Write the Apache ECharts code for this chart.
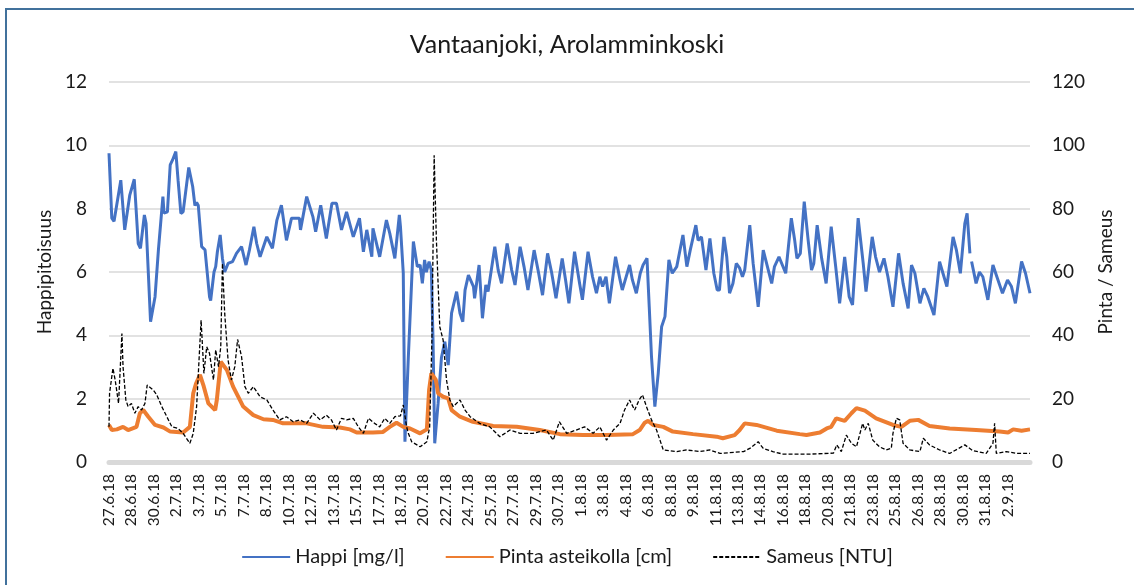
<!DOCTYPE html>
<html>
<head>
  <meta charset="utf-8">
  <script src="https://cdn.jsdelivr.net/npm/echarts@6/dist/echarts.min.js"></script>
  <style>
    body {
      margin: 0;
      padding: 0;
      overflow: hidden;
      background-color: white;
    }

    #main {
      position: absolute;
      left: 0;
      top: 0;
      width: 1134px;
      height: 585px;
    }

    #frame {
      position: absolute;
      left: 5px;
      top: 8px;
      width: 1200px;
      height: 700px;
      border: 2px solid #41719c;
      pointer-events: none;
    }
  </style>
  <title>Vantaanjoki, Arolamminkoski</title>
</head>
<body>
<div id="main"></div>
<div id="frame"></div>

<script>
  // x-akselin nimiöt (yksi nimiö joka 40. tunti)
  var dateLabels = ['27.6.18', '28.6.18', '30.6.18', '2.7.18', '3.7.18', '5.7.18', '7.7.18', '8.7.18',
    '10.7.18', '12.7.18', '13.7.18', '15.7.18', '17.7.18', '18.7.18', '20.7.18', '22.7.18', '24.7.18',
    '25.7.18', '27.7.18', '29.7.18', '30.7.18', '1.8.18', '3.8.18', '4.8.18', '6.8.18', '8.8.18',
    '9.8.18', '11.8.18', '13.8.18', '14.8.18', '16.8.18', '18.8.18', '20.8.18', '21.8.18', '23.8.18',
    '25.8.18', '26.8.18', '28.8.18', '30.8.18', '31.8.18', '2.9.18'];

  // [tunti alusta, happi mg/l]
  var happi = [[0, 9.75], [5, 7.7], [9, 7.6], [21, 8.9], [28, 7.33], [37, 8.43], [40, 8.38], [45, 8.93],
    [52, 6.9], [56, 6.75], [63, 7.8], [66, 7.54], [74, 4.43], [82, 5.22], [88, 6.7], [96, 8.38],
    [98, 7.86], [104, 7.9], [109, 9.38], [113, 9.53], [119, 9.8], [123, 8.9], [128, 7.85], [132, 7.9],
    [142, 9.3], [149, 8.7], [153, 8.1], [156, 8.2], [159, 8.1], [165, 6.8], [171, 6.7], [179, 5.22],
    [181, 5.1], [187, 6.0], [190, 6.17], [193, 6.64], [198, 7.17], [202, 6.43], [206, 6.0], [212, 6.27],
    [220, 6.33], [227, 6.59], [236, 6.8], [244, 6.22], [250, 6.69], [258, 7.43], [263, 6.9], [269, 6.48],
    [281, 7.11], [291, 6.75], [299, 7.64], [307, 8.11], [316, 7.0], [325, 7.7], [339, 7.7], [341, 7.33],
    [352, 8.38], [363, 7.75], [368, 7.27], [377, 8.11], [387, 7.06], [397, 8.17], [405, 8.17], [414, 7.33],
    [423, 7.9], [435, 7.11], [446, 7.7], [453, 6.64], [459, 7.33], [468, 6.48], [470, 7.38], [482, 6.48],
    [494, 7.64], [500, 7.22], [509, 6.43], [517, 7.8], [519, 7.43], [524, 5.97], [527, 0.64], [533, 3.3],
    [542, 6.96], [549, 6.17], [554, 6.22], [558, 5.64], [562, 6.38], [565, 6.0], [570, 6.33], [574, 6.06],
    [577, 3.85], [580, 0.59], [586, 1.85], [592, 3.3], [598, 3.8], [604, 3.06], [610, 4.7], [619, 5.38],
    [625, 4.7], [630, 4.43], [634, 5.43], [640, 5.9], [649, 5.54], [651, 5.17], [659, 6.22], [665, 4.54],
    [671, 5.59], [675, 5.38], [687, 6.8], [693, 6.06], [699, 5.64], [709, 6.9], [717, 6.06], [723, 5.59],
    [732, 6.8], [739, 6.17], [746, 5.43], [757, 6.69], [764, 6.06], [772, 5.27], [781, 6.59], [788, 6.0],
    [796, 5.17], [807, 6.43], [813, 5.75], [819, 5.01], [829, 6.64], [838, 5.64], [843, 5.12], [853, 6.64],
    [861, 5.85], [868, 5.33], [874, 5.85], [879, 5.54], [885, 5.85], [891, 5.01], [902, 6.48], [910, 5.75],
    [914, 5.43], [927, 6.22], [932, 5.75], [939, 5.33], [946, 5.96], [951, 6.22], [958, 6.43], [962, 4.9],
    [966, 3.33], [972, 1.75], [978, 2.8], [984, 4.27], [990, 4.59], [997, 6.38], [1003, 5.96], [1011, 6.17],
    [1022, 7.17], [1029, 6.17], [1035, 6.69], [1045, 7.48], [1049, 7.0], [1055, 7.11], [1063, 6.06],
    [1070, 7.06], [1077, 5.96], [1083, 5.43], [1087, 5.43], [1095, 7.11], [1100, 6.48], [1105, 5.33],
    [1111, 5.64], [1117, 6.27], [1123, 6.12], [1128, 5.85], [1132, 6.06], [1141, 7.48], [1147, 6.27],
    [1156, 4.9], [1165, 6.69], [1174, 6.06], [1180, 5.64], [1185, 6.17], [1193, 6.48], [1199, 6.22],
    [1205, 5.96], [1215, 7.7], [1221, 7.0], [1225, 6.43], [1231, 6.59], [1238, 8.22], [1245, 7.0],
    [1251, 6.06], [1255, 6.27], [1261, 7.48], [1269, 6.43], [1277, 5.64], [1286, 7.43], [1294, 6.17],
    [1301, 5.01], [1310, 6.48], [1318, 5.22], [1324, 4.96], [1334, 7.7], [1343, 6.27], [1348, 5.38],
    [1359, 7.11], [1365, 6.48], [1372, 6.0], [1380, 6.43], [1387, 5.85], [1396, 4.9], [1406, 6.59],
    [1414, 5.64], [1423, 4.85], [1429, 6.22], [1435, 5.96], [1444, 5.01], [1451, 5.48], [1458, 5.22],
    [1469, 4.64], [1479, 6.33], [1485, 5.96], [1492, 5.54], [1503, 7.11], [1509, 6.69], [1516, 5.96],
    [1524, 7.54], [1528, 7.85], [1533, 6.59], [1534.5, '-'], [1536, 6.33], [1544, 5.64], [1550, 6.0],
    [1556, 5.85], [1565, 5.12], [1574, 6.22], [1581, 5.85], [1591, 5.33], [1600, 5.75], [1607, 5.54],
    [1614, 5.01], [1625, 6.33], [1632, 5.96], [1640, 5.33]];

  // [tunti alusta, pinta cm]
  var pinta = [[0, 11.7], [5, 10.1], [14, 10.3], [25, 11.1], [34, 10.1], [49, 11.1], [55, 15.4], [61, 16.4],
    [70, 14.3], [82, 11.7], [97, 10.9], [109, 9.6], [132, 9.3], [144, 11.1], [150, 21.7], [155, 24.8],
    [162, 27.5], [168, 24.3], [177, 18.5], [189, 16.4], [192, 19.6], [199, 31.7], [210, 29], [221, 23.8],
    [239, 17.5], [257, 14.8], [275, 13.5], [292, 13.3], [310, 12.2], [352, 12.2], [381, 11.1], [411, 10.9],
    [429, 10.3], [441, 9.3], [470, 9.3], [488, 9.5], [500, 11.1], [512, 12.4], [524, 11.1], [536, 10.6],
    [554, 9.05], [566, 10.3], [570, 22.7], [574, 28], [582, 25.9], [586, 21.7], [595, 20.6], [604, 20.1],
    [610, 16.4], [625, 14.3], [648, 12.7], [684, 11.4], [726, 11.1], [767, 10.1], [803, 8.8], [844, 8.5],
    [886, 8.5], [933, 8.8], [945, 10.1], [954, 12.4], [960, 13.0], [969, 11.7], [987, 11.1], [1004, 9.6],
    [1040, 8.8], [1082, 8.0], [1093, 7.5], [1114, 8.5], [1123, 10.1], [1132, 12.2], [1153, 11.7],
    [1189, 9.9], [1230, 8.8], [1242, 8.5], [1266, 9.3], [1278, 10.6], [1286, 11.1], [1295, 13.8],
    [1310, 13.0], [1322, 15.4], [1331, 17.0], [1346, 16.2], [1366, 13.8], [1396, 11.7], [1411, 11.1],
    [1426, 13.0], [1441, 13.3], [1461, 11.4], [1497, 10.6], [1544, 10.1], [1586, 9.6], [1601, 9.3],
    [1610, 10.3], [1625, 9.9], [1640, 10.3]];

  // [tunti alusta, sameus NTU]
  var sameus = [[0, 11.1], [1, 21.7], [7, 29.6], [11, 25.9], [17, 18.5], [23, 40.6], [25, 30.1], [30, 19.6],
    [34, 17.5], [40, 18.5], [46, 15.4], [52, 17.5], [58, 16.4], [64, 18.5], [68, 24.3], [79, 22.7],
    [85, 21.2], [94, 17.5], [103, 14.3], [112, 11.1], [123, 10.6], [132, 9.05], [144, 5.9], [150, 9.05],
    [156, 17.5], [164, 44.8], [169, 28], [174, 36.4], [179, 34.3], [186, 25.9], [190, 35.4], [195, 30.1],
    [199, 36.4], [202, 62.7], [206, 47], [212, 32.2], [218, 25.9], [224, 30.1], [229, 38.7], [236, 33.3],
    [242, 23.8], [248, 21.7], [257, 23.8], [269, 20.6], [281, 19.6], [292, 16.4], [304, 13.3], [316, 14.3],
    [328, 12.7], [340, 13.3], [352, 12.2], [364, 15.4], [376, 13.3], [387, 14.8], [396, 13.3], [405, 10.1],
    [414, 13.8], [423, 13.3], [435, 13.8], [444, 11.1], [453, 9.05], [462, 13.8], [473, 12.2], [482, 11.1],
    [491, 13.8], [500, 12.2], [509, 14.3], [519, 14.6], [524, 18], [530, 11.1], [533, 9.05], [539, 6.4],
    [542, 5.9], [554, 4.8], [566, 6.4], [571, 11.1], [575, 38.5], [579, 96.9], [583, 70], [589, 42.7],
    [595, 38.5], [601, 25.9], [607, 19.6], [613, 17.5], [625, 19.6], [634, 16.4], [643, 14.3], [660, 12.2],
    [678, 11.1], [696, 8.0], [714, 10.1], [732, 9.05], [755, 9.05], [779, 10.1], [791, 6.9], [802, 12.7],
    [815, 9.05], [832, 10.1], [847, 11.1], [862, 9.05], [874, 11.1], [886, 6.9], [898, 10.1], [910, 12.2],
    [918, 16.4], [927, 19.6], [936, 16.4], [944, 19.6], [950, 21.2], [957, 17.5], [966, 13.3], [975, 10.1],
    [987, 3.8], [1011, 3.3], [1028, 3.8], [1052, 3.3], [1070, 3.8], [1088, 2.7], [1130, 3.3], [1141, 4.3],
    [1156, 6.4], [1165, 4.3], [1182, 3.3], [1200, 2.5], [1248, 2.5], [1290, 2.8], [1296, 5.4], [1304, 3.3],
    [1313, 8.5], [1322, 5.9], [1331, 4.8], [1342, 12.2], [1346, 10.1], [1352, 12.2], [1360, 6.9],
    [1372, 4.8], [1384, 3.8], [1393, 4.3], [1396, 9.05], [1402, 13.8], [1408, 13.3], [1414, 5.9],
    [1426, 3.8], [1444, 3.3], [1450, 7.5], [1461, 5.4], [1479, 3.8], [1497, 2.7], [1524, 5.4], [1538, 3.6],
    [1562, 2.7], [1574, 5.9], [1577, 12.2], [1580, 2.7], [1598, 3.3], [1616, 2.7], [1640, 2.7]];

  var font = 'Lato, "Open Sans", sans-serif';
  var textColor = '#1a1a1a';

  var myChart = echarts.init(document.getElementById('main'), null, {renderer: 'canvas'});

  myChart.setOption({
    animation: false,
    backgroundColor: '#ffffff',
    title: {
      text: 'Vantaanjoki, Arolamminkoski',
      left: 'center',
      top: 27,
      textStyle: {
        fontFamily: font,
        fontSize: 25,
        fontWeight: 'normal',
        color: textColor
      }
    },
    legend: {
      bottom: 13,
      left: 'center',
      itemWidth: 48,
      itemHeight: 14,
      itemGap: 40,
      itemStyle: {opacity: 0},
      textStyle: {
        fontFamily: font,
        fontSize: 20,
        color: textColor
      },
      data: ['Happi [mg/l]', 'Pinta asteikolla [cm]', 'Sameus [NTU]']
    },
    grid: {
      left: 109,
      right: 104,
      top: 82,
      bottom: 123
    },
    xAxis: {
      type: 'value',
      min: 0,
      max: 1640,
      interval: 40,
      axisLine: {
        lineStyle: {color: '#d9d9d9', width: 5}
      },
      axisTick: {show: false},
      splitLine: {show: false},
      axisLabel: {
        rotate: 90,
        margin: 12,
        fontFamily: font,
        fontSize: 15.5,
        color: textColor,
        formatter: function (v) {
          return dateLabels[Math.round(v / 40)] || '';
        }
      }
    },
    yAxis: [
      {
        type: 'value',
        min: 0,
        max: 12,
        interval: 2,
        name: 'Happipitoisuus',
        nameLocation: 'middle',
        nameGap: 55,
        nameTextStyle: {fontFamily: font, fontSize: 19, color: textColor},
        axisLine: {show: false},
        axisTick: {show: false},
        axisLabel: {margin: 22, fontFamily: font, fontSize: 19, color: textColor},
        splitLine: {lineStyle: {color: '#d9d9d9', width: 1.5}}
      },
      {
        type: 'value',
        min: 0,
        max: 120,
        interval: 20,
        position: 'right',
        name: 'Pinta / Sameus',
        nameLocation: 'middle',
        nameGap: 66,
        nameTextStyle: {fontFamily: font, fontSize: 19, color: textColor},
        axisLine: {show: false},
        axisTick: {show: false},
        axisLabel: {margin: 22, fontFamily: font, fontSize: 19, color: textColor},
        splitLine: {show: false}
      }
    ],
    series: [
      {
        name: 'Happi [mg/l]',
        type: 'line',
        yAxisIndex: 0,
        symbol: 'none',
        connectNulls: false,
        lineStyle: {color: '#4472c4', width: 3},
        itemStyle: {color: '#4472c4'},
        data: happi
      },
      {
        name: 'Pinta asteikolla [cm]',
        type: 'line',
        yAxisIndex: 1,
        symbol: 'none',
        lineStyle: {color: '#ed7d31', width: 4},
        itemStyle: {color: '#ed7d31'},
        data: pinta
      },
      {
        name: 'Sameus [NTU]',
        type: 'line',
        yAxisIndex: 1,
        symbol: 'none',
        lineStyle: {color: '#000000', width: 1.3, type: [4, 2]},
        itemStyle: {color: '#000000'},
        data: sameus
      }
    ]
  });
</script>
</body>
</html>
